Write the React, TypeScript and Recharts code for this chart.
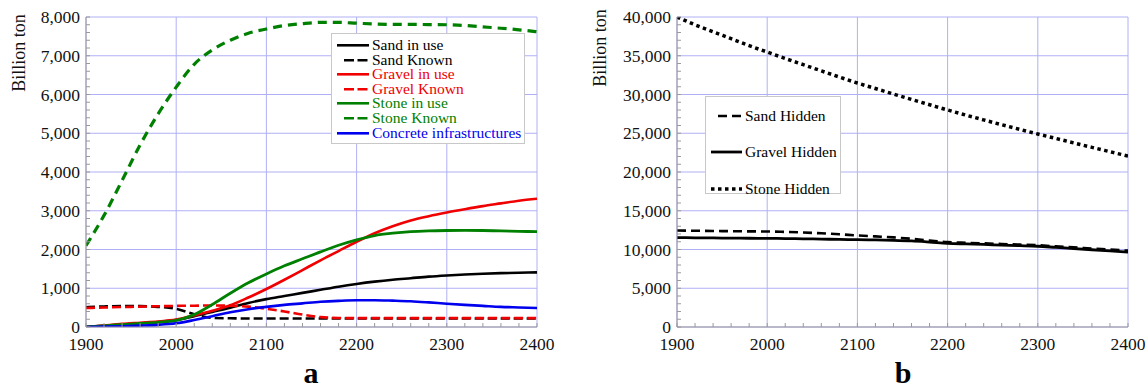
import React from 'react'
import { LineChart, Line, XAxis, YAxis, CartesianGrid } from 'recharts'

const years = [
  1900, 1920, 1940, 1960, 1980, 2000, 2020, 2040, 2060, 2080, 2100, 2120, 2140,
  2160, 2180, 2200, 2220, 2240, 2260, 2280, 2300, 2320, 2340, 2360, 2380, 2400,
]

// panel a (billion ton)
const sandInUse = [
  0, 30, 60, 90, 130, 180, 280, 390, 500, 620, 720, 800, 880, 960, 1040, 1110,
  1170, 1220, 1260, 1300, 1330, 1355, 1375, 1390, 1400, 1410,
]
const sandKnown = [
  510, 530, 540, 540, 520, 470, 330, 235, 225, 220, 220, 220, 220, 220, 220,
  220, 220, 220, 220, 220, 220, 220, 220, 220, 220, 220,
]
const gravelInUse = [
  0, 40, 80, 110, 140, 190, 300, 420, 560, 760, 980, 1220, 1470, 1720, 1960,
  2200, 2420, 2600, 2750, 2860, 2955, 3040, 3120, 3190, 3260, 3310,
]
const gravelKnown = [
  490, 505, 515, 525, 535, 545, 550, 555, 550, 525, 470, 400, 320, 255, 232,
  228, 228, 228, 228, 228, 228, 228, 228, 228, 228, 228,
]
const stoneInUse = [
  0, 30, 60, 90, 120, 170, 320, 580, 870, 1140, 1370, 1580, 1760, 1940, 2110,
  2250, 2360, 2420, 2460, 2480, 2490, 2495, 2490, 2480, 2470, 2460,
]
const stoneKnown = [
  2100, 2880, 3780, 4700, 5500, 6190, 6780, 7150, 7400, 7580, 7690, 7780, 7830,
  7860, 7860, 7840, 7820, 7810, 7810, 7805, 7800, 7780, 7745, 7710, 7670, 7620,
]
const concrete = [
  0, 10, 20, 35, 55, 95, 180, 280, 380, 460, 520, 570, 610, 650, 675, 690, 690,
  680, 665, 635, 600, 570, 545, 520, 505, 490,
]

// panel b (billion ton)
const sandHidden = [
  12450, 12420, 12390, 12360, 12340, 12320, 12270, 12200, 12090, 11960, 11820,
  11690, 11560, 11380, 11160, 10960, 10870, 10790, 10710, 10630, 10550, 10410,
  10270, 10130, 9990, 9850,
]
const gravelHidden = [
  11530, 11510, 11490, 11470, 11450, 11440, 11410, 11380, 11340, 11300, 11270,
  11230, 11180, 11100, 10960, 10800, 10720, 10650, 10570, 10500, 10420, 10270,
  10120, 9970, 9810, 9660,
]
const stoneHidden = [
  40000, 39000, 38100, 37200, 36300, 35480, 34650, 33850, 33050, 32250, 31480,
  30770, 30060, 29360, 28680, 28000, 27350, 26720, 26100, 25500, 24900, 24330,
  23750, 23180, 22620, 22060,
]

const yearLabels = [1900, 2000, 2100, 2200, 2300, 2400]
const leftLabels = [0, 1000, 2000, 3000, 4000, 5000, 6000, 7000, 8000]
const rightLabels = [0, 5000, 10000, 15000, 20000, 25000, 30000, 35000, 40000]
const leftMinor = Array.from({ length: 41 }, (_, i) => i * 200)
const rightMinor = Array.from({ length: 41 }, (_, i) => i * 1000)

const serif = "'Times New Roman', 'Liberation Serif', 'DejaVu Serif', serif"
const frame = '#9a9a9a'
const gridColor = '#b0b0f6'
const red = '#f00000'
const green = '#008000'
const blue = '#0000ee'

const leftSeries = [
  { key: 'sandInUse', name: 'Sand in use', color: '#000', dash: undefined, width: 2.6 },
  { key: 'sandKnown', name: 'Sand Known', color: '#000', dash: '9 4', width: 2.6 },
  { key: 'gravelInUse', name: 'Gravel in use', color: red, dash: undefined, width: 2.6 },
  { key: 'gravelKnown', name: 'Gravel Known', color: red, dash: '9 4', width: 2.6 },
  { key: 'stoneInUse', name: 'Stone in use', color: green, dash: undefined, width: 2.8 },
  { key: 'stoneKnown', name: 'Stone Known', color: green, dash: '9 6', width: 3.2 },
  { key: 'concrete', name: 'Concrete infrastructures', color: blue, dash: undefined, width: 2.6 },
]

const rightSeries = [
  { key: 'sandHidden', name: 'Sand Hidden', dash: '9 5', width: 2.6 },
  { key: 'gravelHidden', name: 'Gravel Hidden', dash: undefined, width: 2.8 },
  { key: 'stoneHidden', name: 'Stone Hidden', dash: '3.5 3.5', width: 3.5 },
]

const leftData = years.map((year, i) => ({
  year,
  sandInUse: sandInUse[i],
  sandKnown: sandKnown[i],
  gravelInUse: gravelInUse[i],
  gravelKnown: gravelKnown[i],
  stoneInUse: stoneInUse[i],
  stoneKnown: stoneKnown[i],
  concrete: concrete[i],
}))

const rightData = years.map((year, i) => ({
  year,
  sandHidden: sandHidden[i],
  gravelHidden: gravelHidden[i],
  stoneHidden: stoneHidden[i],
}))

const fmtYear = (v: number) => (yearLabels.includes(v) ? String(v) : '')
const fmtLeft = (v: number) => (leftLabels.includes(v) ? v.toLocaleString('en-US') : '')
const fmtRight = (v: number) => (rightLabels.includes(v) ? v.toLocaleString('en-US') : '')

const tickStyle = { fill: '#111', fontSize: 17.5, fontFamily: serif, fontWeight: 400 }

function Panel({
  data,
  yMax,
  minor,
  labels,
  fmt,
  children,
}: {
  data: any[]
  yMax: number
  minor: number[]
  labels: number[]
  fmt: (v: number) => string
  children: React.ReactNode
}) {
  return (
    <LineChart width={557} height={391} data={data} margin={{ top: 17, right: 20, bottom: 0, left: 0 }}>
      <CartesianGrid
        stroke={gridColor}
        strokeWidth={1}
        verticalValues={yearLabels}
        horizontalValues={labels}
      />
      <XAxis
        dataKey="year"
        type="number"
        domain={[1900, 2400]}
        ticks={years}
        interval={0}
        tickFormatter={fmtYear}
        tickSize={-4}
        tickMargin={15}
        height={64}
        stroke={frame}
        tick={tickStyle}
        allowDataOverflow
      />
      <XAxis
        xAxisId="top"
        orientation="top"
        type="number"
        domain={[1900, 2400]}
        ticks={years}
        interval={0}
        tick={false}
        tickSize={-4}
        height={0}
        stroke={frame}
      />
      <YAxis
        type="number"
        domain={[0, yMax]}
        ticks={minor}
        interval={0}
        tickFormatter={fmt}
        tickSize={-4}
        tickMargin={10}
        width={86}
        stroke={frame}
        tick={tickStyle}
        allowDataOverflow
      />
      <YAxis
        yAxisId="right"
        orientation="right"
        type="number"
        domain={[0, yMax]}
        ticks={minor}
        interval={0}
        tick={false}
        tickSize={-4}
        width={0}
        stroke={frame}
      />
      {children}
    </LineChart>
  )
}

function LegendA() {
  return (
    <div
      style={{
        position: 'absolute',
        left: 331,
        top: 33,
        width: 194,
        height: 111,
        border: '1px solid #c8c8c8',
        background: '#fff',
        paddingTop: 4,
        boxSizing: 'border-box',
        fontFamily: serif,
        fontWeight: 400,
        fontSize: 15.5,
      }}
    >
      {leftSeries.map(s => (
        <div key={s.key} style={{ display: 'flex', alignItems: 'center', height: 14.6, color: s.color }}>
          <svg width={40} height={14.6} style={{ flex: 'none' }}>
            <line
              x1={s.dash ? 12 : 5}
              x2={37}
              y1={7.3}
              y2={7.3}
              stroke={s.color}
              strokeWidth={2.6}
              strokeDasharray={s.dash ? '10 3.5' : undefined}
            />
          </svg>
          <span style={{ whiteSpace: 'nowrap', lineHeight: '14.6px' }}>{s.name}</span>
        </div>
      ))}
    </div>
  )
}

function LegendB() {
  return (
    <div
      style={{
        position: 'absolute',
        left: 705,
        top: 96,
        width: 136,
        height: 98,
        border: '1px solid #c8c8c8',
        background: '#fff',
        paddingTop: 2,
        boxSizing: 'border-box',
        fontFamily: serif,
        fontWeight: 400,
        fontSize: 15.5,
      }}
    >
      {rightSeries.map(s => (
        <div key={s.key} style={{ display: 'flex', alignItems: 'center', height: 33, marginBottom: 3.5, color: '#000' }}>
          <svg width={39} height={20} style={{ flex: 'none' }}>
            <line
              x1={s.dash === '9 5' ? 12 : 5}
              x2={36}
              y1={10}
              y2={10}
              stroke="#000"
              strokeWidth={s.width}
              strokeDasharray={s.dash}
            />
          </svg>
          <span style={{ whiteSpace: 'nowrap' }}>{s.name}</span>
        </div>
      ))}
    </div>
  )
}

const yLabelStyle: React.CSSProperties = {
  position: 'absolute',
  transform: 'translate(-50%, -50%) rotate(-90deg)',
  fontFamily: serif,
  fontWeight: 400,
  fontSize: 18,
  whiteSpace: 'nowrap',
  color: '#111',
}

const titleStyle: React.CSSProperties = {
  position: 'absolute',
  top: 358,
  width: 40,
  marginLeft: -20,
  textAlign: 'center',
  fontFamily: serif,
  fontWeight: 700,
  fontSize: 30,
  lineHeight: '30px',
  color: '#000',
}

export default function App() {
  return (
    <div style={{ position: 'absolute', left: 0, top: 0, width: 1148, height: 391, background: '#fff' }}>
      <div style={{ position: 'absolute', left: 0, top: 0 }}>
        <Panel data={leftData} yMax={8000} minor={leftMinor} labels={leftLabels} fmt={fmtLeft}>
          {leftSeries.map(s => (
            <Line
              key={s.key}
              type="monotone"
              dataKey={s.key}
              name={s.name}
              stroke={s.color}
              strokeWidth={s.width}
              strokeDasharray={s.dash}
              dot={false}
              activeDot={false}
              isAnimationActive={false}
            />
          ))}
        </Panel>
      </div>
      <div style={{ position: 'absolute', left: 591, top: 0 }}>
        <Panel data={rightData} yMax={40000} minor={rightMinor} labels={rightLabels} fmt={fmtRight}>
          {rightSeries.map(s => (
            <Line
              key={s.key}
              type="monotone"
              dataKey={s.key}
              name={s.name}
              stroke="#000"
              strokeWidth={s.width}
              strokeDasharray={s.dash}
              dot={false}
              activeDot={false}
              isAnimationActive={false}
            />
          ))}
        </Panel>
      </div>
      <LegendA />
      <LegendB />
      <div style={{ ...yLabelStyle, left: 18.5, top: 53 }}>Billion ton</div>
      <div style={{ ...yLabelStyle, left: 600, top: 48 }}>Billion ton</div>
      <div style={{ ...titleStyle, left: 311 }}>a</div>
      <div style={{ ...titleStyle, left: 903 }}>b</div>
    </div>
  )
}
